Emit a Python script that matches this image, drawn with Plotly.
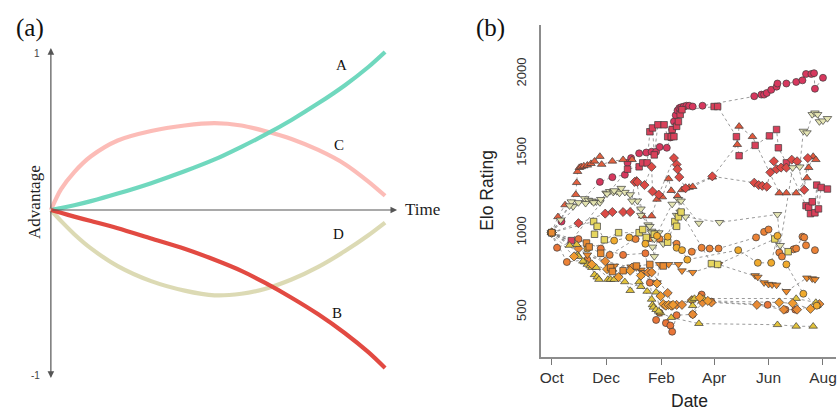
import pandas as pd
import plotly.graph_objects as go

# ---------------- Panel (a): conceptual curves ----------------
t_vals = [0, 0.03, 0.07, 0.12, 0.20, 0.30, 0.40, 0.49, 0.57, 0.64, 0.72, 0.80, 0.88, 0.95, 1.0]
curve_A = [0, 0.012, 0.03, 0.056, 0.104, 0.17, 0.245, 0.32, 0.40, 0.475, 0.57, 0.675, 0.79, 0.905, 1.0]
curve_C = [0, 0.13, 0.24, 0.34, 0.44, 0.50, 0.535, 0.55, 0.535, 0.50, 0.45, 0.38, 0.29, 0.18, 0.09]
curve_D = [0, -0.069, -0.153, -0.243, -0.355, -0.45, -0.51, -0.54, -0.53, -0.50, -0.44, -0.36, -0.26, -0.16, -0.08]
curve_B = [0, -0.018, -0.042, -0.07, -0.115, -0.18, -0.245, -0.315, -0.385, -0.46, -0.555, -0.66, -0.78, -0.90, -1.0]
curve_names = ["A", "C", "D", "B"]
label_t = [0.87, 0.862, 0.862, 0.855]
label_y = [0.92, 0.41, -0.155, -0.655]

# ---------------- Panel (b): Elo ratings (days since 1 Oct) ----------------
season_start = "2013-10-01"

i1_day = [0, 11, 54, 68, 82, 85, 89, 98, 106, 112, 117, 121, 129, 133, 135, 137, 139, 141, 143, 145, 148,
          151, 154, 158, 169, 227, 235, 238, 241, 246, 252, 253, 263, 274, 281, 285, 291, 294, 295, 304]
i1_elo = [1000, 1070, 1320, 1350, 1365, 1440, 1470, 1500, 1505, 1510, 1510, 1540, 1535, 1600, 1650, 1700,
          1740, 1770, 1785, 1790, 1795, 1800, 1800, 1795, 1800, 1860, 1870, 1870, 1880, 1900, 1920, 1940,
          1940, 1950, 1960, 2000, 2000, 2005, 1907, 1976]

i2_day = [0, 22, 85, 98, 102, 107, 110, 113, 115, 119, 126, 130, 134, 135, 137, 140, 142, 144, 146, 182, 186,
          207, 210, 228, 244, 252, 254, 263, 285, 288, 290, 292, 295, 297, 299, 302, 309]
i2_elo = [1000, 950, 1400, 1415, 1440, 1440, 1636, 1660, 1490, 1680, 1680, 1605, 1605, 1650, 1605, 1670, 1700,
          1745, 1775, 1795, 1795, 1605, 1485, 1550, 1610, 1650, 1535, 1440, 1170, 1160, 1120, 1195, 1125,
          1300, 1150, 1285, 1275]

i3_day = [0, 7, 15, 27, 28, 29, 31, 33, 36, 40, 44, 48, 54, 56, 68, 80, 90]
i3_elo = [1000, 1100, 1175, 1240, 1315, 1385, 1410, 1415, 1420, 1425, 1435, 1450, 1480, 1430, 1450, 1460, 1460]

i4_day = [95, 102, 112, 118, 124, 131, 134, 141, 146, 150, 154, 158, 180, 208, 210, 225, 255, 263, 274, 286,
          288, 293, 296]
i4_elo = [1330, 1105, 1105, 1210, 1225, 1340, 1265, 1230, 1270, 1280, 1285, 1290, 1350, 1555, 1670, 1605,
          1250, 1250, 1250, 1345, 1410, 1480, 1460]

i5_day = [0, 30, 60, 68, 80, 88, 93, 96, 104, 112, 113, 120, 137, 140, 141, 143, 150, 180, 227, 232, 236, 241,
          245, 249, 252, 257, 263, 269, 275, 283, 287]
i5_elo = [1000, 1060, 1120, 1130, 1130, 1130, 1320, 1320, 1300, 1415, 1260, 1240, 1470, 1430, 1400, 1350,
          1280, 1355, 1315, 1300, 1295, 1290, 1380, 1450, 1400, 1410, 1410, 1460, 1450, 1270, 1470]

i6_day = [0, 6, 30, 55, 80, 105, 110, 117, 121, 128, 133, 135, 140, 158, 168, 179, 242, 262, 273]
i6_elo = [1000, 905, 960, 900, 860, 870, 685, 450, 495, 430, 415, 376, 480, 485, 610, 565, 545, 515, 515]

i7_day = [0, 17, 40, 65, 94, 110, 121, 140, 157, 168, 177, 187, 229, 238, 243, 255, 258, 271, 274, 281, 283,
          285, 295]
i7_elo = [1000, 815, 830, 860, 960, 965, 960, 930, 880, 905, 900, 900, 970, 1005, 1020, 875, 850, 895, 900,
          975, 970, 920, 890]

i8_day = [0, 40, 70, 89, 95, 100, 102, 118, 121, 131, 142, 146, 158, 187, 228, 231, 238, 243, 247, 252, 263,
          286, 292, 295]
i8_elo = [1000, 860, 790, 785, 780, 765, 750, 685, 800, 800, 800, 760, 750, 800, 730, 720, 685, 675, 672, 670,
          630, 715, 710, 705]

i9_day = [0, 30, 60, 90, 108, 112, 130, 135, 140, 146, 157, 158, 169, 179, 230, 260, 275, 300]
i9_elo = [1000, 900, 820, 780, 750, 750, 620, 540, 545, 545, 575, 485, 560, 560, 545, 515, 515, 550]

i10_day = [0, 28, 29, 30, 37, 40, 43, 45, 48, 51, 53, 63, 68, 82, 88, 98, 107, 117, 122, 134, 165, 253, 274,
           293]
i10_elo = [1000, 925, 860, 850, 815, 800, 790, 780, 735, 720, 705, 705, 770, 690, 635, 690, 630, 625, 495,
           465, 427, 420, 410, 410]

i11_day = [0, 20, 35, 50, 66, 70, 100, 112, 113, 114, 117, 120, 157, 158, 160, 170, 274, 296, 297]
i11_elo = [1000, 920, 820, 780, 705, 705, 660, 580, 545, 530, 515, 505, 575, 540, 585, 585, 585, 560, 540]

i12_day = [0, 22, 24, 37, 41, 45, 50, 54, 61, 65, 69, 73, 76, 82, 88, 96, 100, 108, 112, 115, 135, 142, 144,
           150, 188, 253, 256, 270, 278, 282, 286, 292, 295, 298, 300, 304, 309]
i12_elo = [1000, 1195, 1165, 1215, 1205, 1200, 1195, 1190, 1250, 1260, 1255, 1260, 1250, 1255, 1240, 1200,
           1150, 1050, 1010, 960, 1180, 1210, 1130, 1100, 1065, 1115, 920, 1410, 1415, 1640, 1630, 1745,
           1755, 1745, 1700, 1705, 1720]

i13_day = [0, 10, 20, 30, 38, 47, 55, 62, 70, 78, 90, 100, 110, 112, 113, 115, 120, 125, 140, 145, 165]
i13_elo = [1000, 1080, 1170, 1190, 1185, 1190, 1210, 1245, 1265, 1280, 1200, 1110, 1040, 1000, 910, 850,
           1000, 930, 1110, 1200, 1060]

i14_day = [0, 47, 48, 51, 59, 75, 98, 102, 106, 115, 130, 138, 140, 142, 145, 179, 186, 250, 265]
i14_elo = [1000, 1070, 990, 1040, 955, 1000, 1000, 1020, 970, 990, 940, 1070, 1040, 1100, 1130, 805, 800,
           960, 880]

i15_day = [0, 40, 70, 87, 105, 118, 130, 140, 146, 152, 209, 231, 246, 253, 263, 282, 297]
i15_elo = [1000, 900, 950, 970, 930, 980, 975, 905, 890, 830, 890, 810, 810, 980, 800, 615, 540]

i16_day = [0, 25, 45, 62, 75, 88, 100, 118, 122, 125, 128, 131, 134, 136, 166, 175, 255, 270, 290]
i16_elo = [1000, 850, 800, 770, 720, 760, 730, 680, 600, 550, 540, 545, 540, 545, 590, 570, 560, 555, 520]

i17_day = [0, 39, 42, 55, 66, 68, 80, 95, 110, 125]
i17_elo = [1000, 935, 910, 870, 780, 755, 760, 790, 800, 790]

all_days = [i1_day, i2_day, i3_day, i4_day, i5_day, i6_day, i7_day, i8_day, i9_day, i10_day,
            i11_day, i12_day, i13_day, i14_day, i15_day, i16_day, i17_day]
all_elos = [i1_elo, i2_elo, i3_elo, i4_elo, i5_elo, i6_elo, i7_elo, i8_elo, i9_elo, i10_elo,
            i11_elo, i12_elo, i13_elo, i14_elo, i15_elo, i16_elo, i17_elo]

# styles (kept separate from data)
ind_symbols = ["circle", "square", "triangle-up", "triangle-up", "diamond", "circle", "circle",
               "triangle-down", "diamond", "triangle-up", "triangle-up", "triangle-down", "triangle-down",
               "square", "circle", "diamond", "square"]
ind_colors = ["#d7375e", "#d9405a", "#e2603f", "#e0583c", "#dc4a45", "#e97538", "#ec8236",
              "#ee8a2c", "#e88a34", "#e2c23a", "#e0c440", "#e5e5b4", "#e2e2ae",
              "#e6d660", "#f0aa2c", "#f09a30", "#e88a32"]

x_ticks = ["2013-10-01", "2013-12-01", "2014-02-01", "2014-04-01", "2014-06-01", "2014-08-01"]
x_tick_text = ["Oct", "Dec", "Feb", "Apr", "Jun", "Aug"]
y_ticks = [500, 1000, 1500, 2000]

W, H = 839, 410
def px(x):
    return x / W
def py(y):
    return 1 - y / H

fig = go.Figure()

# panel (a) curves
curve_vals = [curve_A, curve_C, curve_D, curve_B]
curve_colors = ["rgba(104,214,186,0.95)", "rgba(251,176,170,0.85)", "rgba(216,214,172,0.9)",
                "rgba(224,64,56,0.95)"]
draw_order = [2, 1, 0, 3]
for k in draw_order:
    fig.add_trace(go.Scatter(x=t_vals, y=curve_vals[k], mode="lines",
                             line=dict(color=curve_colors[k], width=4.2, shape="spline", smoothing=0.8),
                             xaxis="x", yaxis="y", showlegend=False, hoverinfo="skip"))

# panel (b) lines then markers
base = pd.Timestamp(season_start)
dates = [base + pd.to_timedelta(d, unit="D") for d in all_days]
for dts, el in zip(dates, all_elos):
    fig.add_trace(go.Scatter(x=dts, y=el, mode="lines",
                             line=dict(color="rgba(120,120,120,0.75)", width=1, dash="dot"),
                             xaxis="x2", yaxis="y2", showlegend=False, hoverinfo="skip"))
for dts, el, sym, col in zip(dates, all_elos, ind_symbols, ind_colors):
    size = 7.5 if sym.startswith("triangle") else (6.5 if sym == "square" else 7)
    fig.add_trace(go.Scatter(x=dts, y=el, mode="markers",
                             marker=dict(symbol=sym, size=size, color=col,
                                         line=dict(color="#3c3c3c", width=0.7)),
                             xaxis="x2", yaxis="y2", showlegend=False, cliponaxis=False))

x_left = base + pd.Timedelta(days=-12.3)
x_right = base + pd.Timedelta(days=318.6)

serif = "Liberation Serif, DejaVu Serif, serif"
sans = "Liberation Sans, Arial, sans-serif"

# panel (a) axis geometry: t=0 at px 50, t=1 at px 385; y=0 at px 210, 158 px per unit
a_xr = [-0.05, 1.1]
a_yr = [-1.15, 1.15]
a_xdom = [px(50 + a_xr[0] * 335), px(50 + a_xr[1] * 335)]
a_ydom = [py(210 - a_yr[0] * 158), py(210 - a_yr[1] * 158)]

annotations = [
    dict(x=0, y=1.025, ax=0, ay=0, xref="x", yref="y", axref="x", ayref="y", text="",
         showarrow=True, arrowhead=2, arrowsize=1.1, arrowwidth=1.2, arrowcolor="#555"),
    dict(x=0, y=-1.063, ax=0, ay=0, xref="x", yref="y", axref="x", ayref="y", text="",
         showarrow=True, arrowhead=2, arrowsize=1.1, arrowwidth=1.2, arrowcolor="#555"),
    dict(x=1.036, y=0, ax=0, ay=0, xref="x", yref="y", axref="x", ayref="y", text="",
         showarrow=True, arrowhead=2, arrowsize=1.1, arrowwidth=1.2, arrowcolor="#555"),
    dict(x=px(403), y=py(209), xref="paper", yref="paper", text="Time", showarrow=False,
         xanchor="left", yanchor="middle", font=dict(family=serif, size=17, color="#222")),
    dict(x=px(33), y=py(202), xref="paper", yref="paper", text="Advantage", showarrow=False,
         textangle=-90, xanchor="center", yanchor="middle", font=dict(family=serif, size=17, color="#222")),
    dict(x=px(41), y=py(53), xref="paper", yref="paper", text="1", showarrow=False,
         xanchor="right", yanchor="middle", font=dict(family=sans, size=10, color="#444")),
    dict(x=px(41), y=py(375), xref="paper", yref="paper", text="-1", showarrow=False,
         xanchor="right", yanchor="middle", font=dict(family=sans, size=10, color="#444")),
    dict(x=px(29), y=py(28), xref="paper", yref="paper", text="(a)", showarrow=False,
         xanchor="center", yanchor="middle", font=dict(family=serif, size=25, color="#111")),
    dict(x=px(491), y=py(28), xref="paper", yref="paper", text="(b)", showarrow=False,
         xanchor="center", yanchor="middle", font=dict(family=serif, size=25, color="#111")),
    dict(x=px(487), y=py(190), xref="paper", yref="paper", text="Elo Rating", showarrow=False,
         textangle=-90, xanchor="center", yanchor="middle", font=dict(family=sans, size=17.5, color="#222")),
    dict(x=px(690), y=py(401), xref="paper", yref="paper", text="Date", showarrow=False,
         xanchor="center", yanchor="middle", font=dict(family=sans, size=17.5, color="#222")),
]
for name, lt, ly in zip(curve_names, label_t, label_y):
    annotations.append(dict(x=lt, y=ly, xref="x", yref="y", text=name, showarrow=False,
                            font=dict(family=serif, size=15, color="#111")))

fig.update_layout(
    width=W, height=H, margin=dict(l=0, r=0, t=0, b=0),
    paper_bgcolor="white", plot_bgcolor="white", showlegend=False,
    xaxis=dict(domain=a_xdom, range=a_xr, visible=False, fixedrange=True),
    yaxis=dict(domain=a_ydom, range=a_yr, visible=False, fixedrange=True),
    xaxis2=dict(domain=[px(541), px(837)], range=[x_left, x_right], anchor="y2", type="date",
                showgrid=False, zeroline=False, showline=True, linecolor="#8c8c8c", linewidth=1.5,
                ticks="outside", ticklen=6, tickwidth=1.2, tickcolor="#777",
                tickvals=[pd.Timestamp(v) for v in x_ticks], ticktext=x_tick_text,
                tickfont=dict(family=sans, size=15.5, color="#333")),
    yaxis2=dict(domain=[py(357), py(25)], range=[216.5, 2308.7], anchor="x2",
                showgrid=False, zeroline=False, showline=True, linecolor="#8c8c8c", linewidth=1.5,
                ticks="", tickvals=y_ticks, tickangle=-90, ticklabelstandoff=8,
                tickfont=dict(family=sans, size=13, color="#333")),
    annotations=annotations,
)

fig.write_html("out.html")
